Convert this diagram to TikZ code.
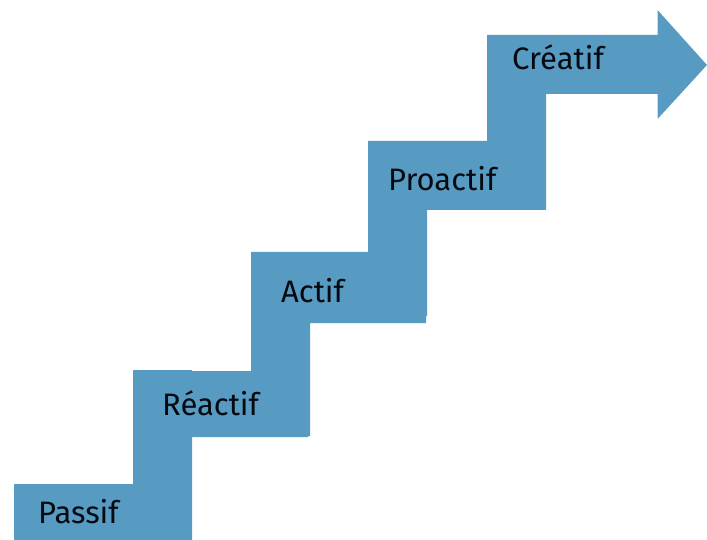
\documentclass[tikz,border=0pt]{standalone}
\usepackage{fontspec}
\setmainfont{Fira Sans}
\definecolor{stairblue}{HTML}{589BC2}
\definecolor{stairtext}{HTML}{050A10}
\tikzset{
  stairshape/.style={fill=stairblue,draw=none},
  stairlabel/.style={anchor=base west,inner sep=0pt,text=stairtext,font=\fontsize{31}{31}\selectfont}
}
\begin{document}
\begin{tikzpicture}[x=1pt,y=-1pt]
\useasboundingbox (0,0) rectangle (707,540);
\fill[stairshape] (14,484) -- (133,484) -- (133,370) -- (192,370) -- (192,371) -- (251,371) -- (251,252) -- (368,252) -- (368,141) -- (487,141) -- (487,35) -- (657.5,35) -- (657.5,10) -- (707,65) -- (657.5,119) -- (657.5,94) -- (546,94) -- (546,210) -- (427,210) -- (427,316) -- (426,316) -- (426,323) -- (310,323) -- (310,436) -- (308,436) -- (308,437) -- (192,437) -- (192,540) -- (14,540) -- cycle;
\node[stairlabel] (passif) at (38,523) {Passif};
\node[stairlabel] (reactif) at (162,415) {Réactif};
\node[stairlabel] (actif) at (281,302) {Actif};
\node[stairlabel] (proactif) at (388,191) {Proactif};
\node[stairlabel] (creatif) at (512,70) {Créatif};
\end{tikzpicture}
\end{document}
